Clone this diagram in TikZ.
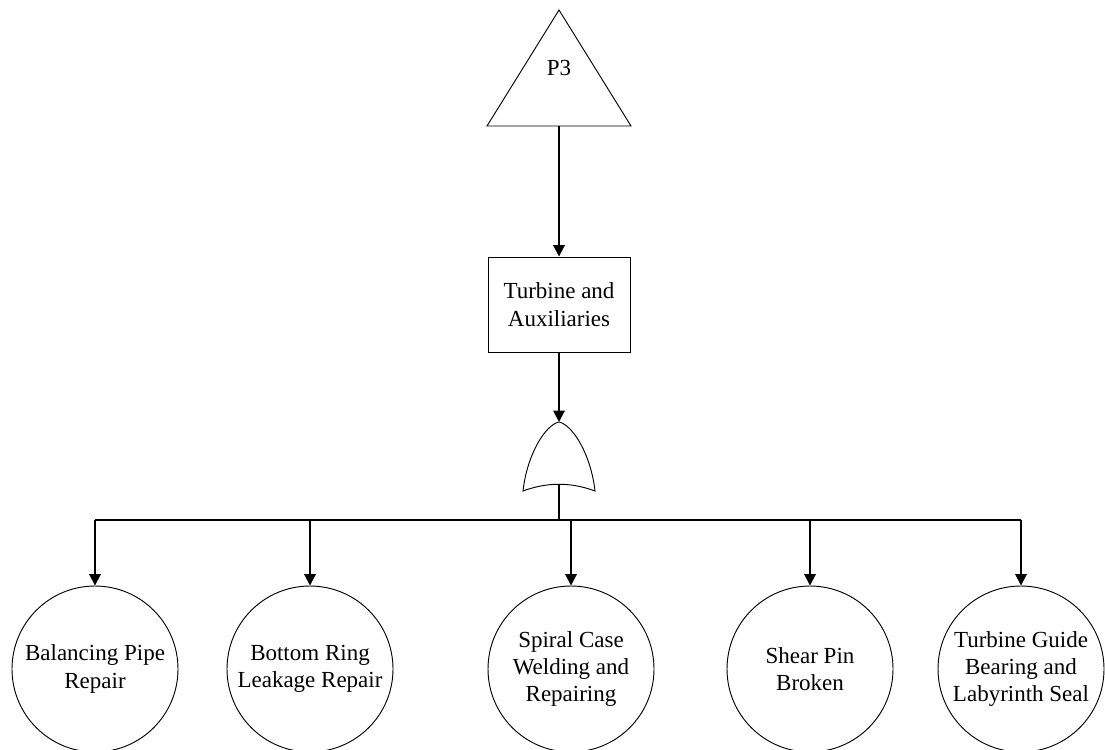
\documentclass[tikz,border=0pt]{standalone}
\usepackage{fontspec}
\setmainfont{Liberation Serif}
\usetikzlibrary{arrows.meta}
\begin{document}
\begin{tikzpicture}[x=0.75pt,y=-0.75pt,
  shapeline/.style={draw=black,line width=0.7pt},
  conn/.style={draw=black,line width=1.4pt},
  arr/.style={conn,-{Triangle[length=8.5pt,width=8.5pt]}},
  lbl/.style={font=\fontsize{17.25pt}{20.5pt}\selectfont,align=center},
  event/.style={shapeline,lbl,rectangle,minimum width=106.5pt,minimum height=71.25pt,inner sep=0pt},
  basic/.style={shapeline,lbl,circle,minimum size=124.5pt,inner sep=0pt}]
\useasboundingbox (0,0) rectangle (1105,749);
\clip (0,0) rectangle (1105,749);

% transfer triangle
\draw[shapeline] (559,10) -- (631,126) -- (487,126) -- cycle;
\node[lbl] (p3) at (559,68) {P3};
\coordinate (p3b) at (559,126);

% intermediate event
\node[event] (tur) at (559,304.5) {Turbine and\\Auxiliaries};

% OR gate
\draw[shapeline,fill=white] (523,491) .. controls (527,455) and (545,425) .. (559,422)
  .. controls (573,425) and (591,455) .. (595,491)
  .. controls (571,482) and (547,482) .. (523,491) -- cycle;
\coordinate (gtop) at (559,422);
\coordinate (gout) at (559,484);

% basic events
\node[basic] (b1) at (95,669) {Balancing Pipe\\Repair};
\node[basic] (b2) at (310,669) {Bottom Ring\\Leakage Repair};
\node[basic] (b3) at (571,669) {Spiral Case\\Welding and\\Repairing};
\node[basic] (b4) at (810,669) {Shear Pin\\Broken};
\node[basic] (b5) at (1021,669) {Turbine Guide\\Bearing and\\Labyrinth Seal};

% connectors
\draw[arr] (p3b) -- (tur.north);
\draw[arr] (tur.south) -- (gtop);
\coordinate (bus) at (559,520);
\draw[conn] (gout) -- (bus);
\draw[conn] (b1 |- bus) -- (b5 |- bus);
\foreach \n in {b1,b2,b3,b4,b5}
  \draw[arr] (\n |- bus) -- (\n.north);
\end{tikzpicture}
\end{document}
